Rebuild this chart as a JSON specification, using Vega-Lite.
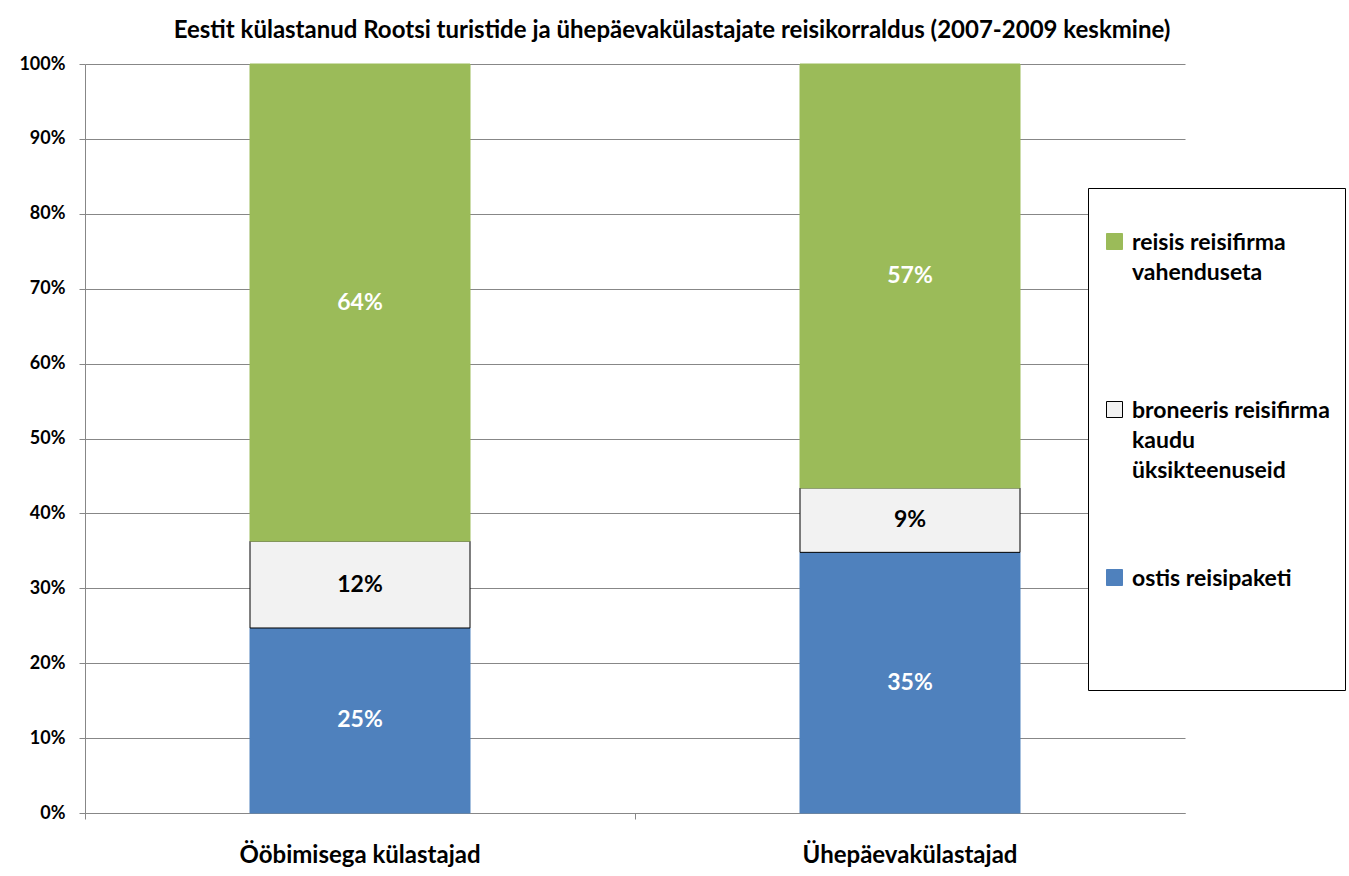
{
  "$schema": "https://vega.github.io/schema/vega-lite/v6.json",
  "width": 1100,
  "height": 749,
  "autosize": {"type": "none"},
  "padding": {"left": 85, "top": 64, "right": 164, "bottom": 63},
  "background": "white",
  "title": {
    "text": "Eestit külastanud Rootsi turistide ja ühepäevakülastajate reisikorraldus (2007-2009 keskmine)",
    "anchor": "middle",
    "dx": 37,
    "offset": 12,
    "font": "Lato",
    "fontSize": 24,
    "fontWeight": "bold",
    "color": "black"
  },
  "config": {
    "view": {"stroke": null},
    "font": "Lato"
  },
  "data": {
    "values": [
      {"group": "Ööbimisega külastajad", "cat": "ostis reisipaketi", "v": 0.247, "ord": 1},
      {"group": "Ööbimisega külastajad", "cat": "broneeris reisifirma kaudu üksikteenuseid", "v": 0.116, "ord": 2},
      {"group": "Ööbimisega külastajad", "cat": "reisis reisifirma vahenduseta", "v": 0.637, "ord": 3},
      {"group": "Ühepäevakülastajad", "cat": "ostis reisipaketi", "v": 0.348, "ord": 1},
      {"group": "Ühepäevakülastajad", "cat": "broneeris reisifirma kaudu üksikteenuseid", "v": 0.086, "ord": 2},
      {"group": "Ühepäevakülastajad", "cat": "reisis reisifirma vahenduseta", "v": 0.566, "ord": 3}
    ]
  },
  "encoding": {
    "x": {
      "field": "group",
      "type": "nominal",
      "sort": null,
      "scale": {"paddingInner": 0, "paddingOuter": 0},
      "axis": {
        "title": null,
        "labelAngle": 0,
        "labelFont": "Lato",
        "labelFontSize": 24,
        "labelFontWeight": "bold",
        "labelColor": "black",
        "labelPadding": 24,
        "labelLimit": 500,
        "bandPosition": 0,
        "tickSize": 6,
        "tickColor": "#878787",
        "domainColor": "#878787",
        "grid": false
      }
    }
  },
  "layer": [
    {
      "mark": {"type": "bar", "width": {"band": 0.4}, "strokeWidth": 1},
      "encoding": {
        "y": {
          "field": "v",
          "type": "quantitative",
          "stack": "zero",
          "scale": {"domain": [0, 1], "nice": false},
          "axis": {
            "title": null,
            "values": [0, 0.1, 0.2, 0.3, 0.4, 0.5, 0.6, 0.7, 0.8, 0.9, 1],
            "format": ".0%",
            "labelFont": "Lato",
            "labelFontSize": 18,
            "labelFontWeight": "bold",
            "labelColor": "black",
            "labelPadding": 14,
            "tickSize": 6,
            "tickColor": "#878787",
            "domainColor": "#878787",
            "gridColor": "#878787",
            "gridWidth": 1
          }
        },
        "order": {"field": "ord", "type": "quantitative"},
        "color": {
          "field": "cat",
          "type": "nominal",
          "scale": {
            "domain": ["reisis reisifirma vahenduseta", "broneeris reisifirma kaudu üksikteenuseid", "ostis reisipaketi"],
            "range": ["#9BBB59", "#F2F2F2", "#4F81BD"]
          },
          "legend": {
            "orient": "none",
            "legendX": 1003,
            "legendY": 124,
            "title": " ",
            "titleFontSize": 20,
            "titlePadding": 7,
            "fillColor": "white",
            "strokeColor": "black",
            "padding": 15,
            "symbolType": "square",
            "symbolSize": 256,
            "symbolStrokeWidth": 1,
            "labelFont": "Lato",
            "labelFontSize": 23,
            "labelFontWeight": "bold",
            "labelColor": "black",
            "labelBaseline": "alphabetic",
            "labelLimit": 400,
            "labelOffset": 6,
            "rowPadding": 83,
            "labelExpr": "datum.label == 'reisis reisifirma vahenduseta' ? ['reisis reisifirma', 'vahenduseta', ' '] : datum.label == 'ostis reisipaketi' ? ['ostis reisipaketi', ' ', ' ', ' '] : ['broneeris reisifirma', 'kaudu', 'üksikteenuseid']",
            "encode": {
              "labels": {
                "update": {
                  "dy": {"value": 8},
                  "lineHeight": [{"test": "datum.value == 'ostis reisipaketi'", "value": 28}, {"value": 30}]
                }
              }
            }
          }
        },
        "stroke": {
          "field": "cat",
          "type": "nominal",
          "scale": {
            "domain": ["reisis reisifirma vahenduseta", "broneeris reisifirma kaudu üksikteenuseid", "ostis reisipaketi"],
            "range": ["#9BBB59", "#000000", "#4F81BD"]
          }
        }
      }
    },
    {
      "mark": {"type": "text", "font": "Lato", "fontSize": 23, "fontWeight": "bold", "baseline": "middle"},
      "encoding": {
        "y": {"field": "v", "type": "quantitative", "stack": "zero", "bandPosition": 0.5},
        "order": {"field": "ord", "type": "quantitative"},
        "text": {"field": "v", "type": "quantitative", "format": ".0%"},
        "color": {
          "condition": {"test": "datum.cat === 'broneeris reisifirma kaudu üksikteenuseid'", "value": "black"},
          "value": "white"
        }
      }
    }
  ]
}
